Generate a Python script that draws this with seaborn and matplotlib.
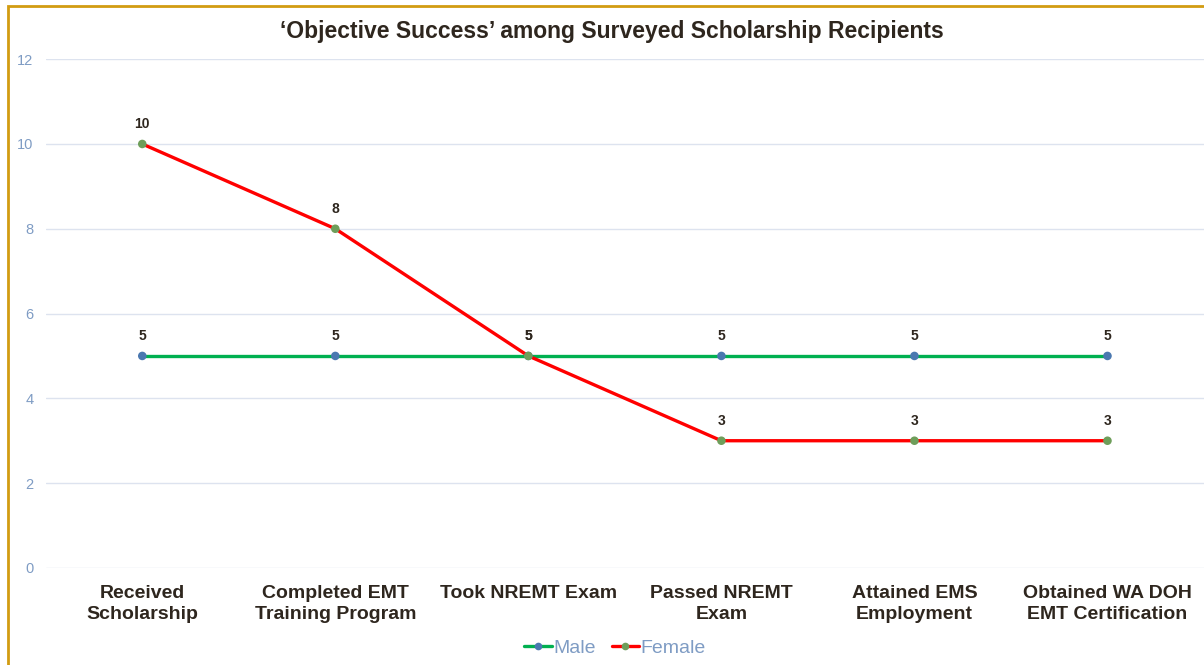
#Objective success line chart

#Import libraries
import numpy as np
import matplotlib.pyplot as plt
import pandas as pd
import seaborn as sns
from matplotlib.lines import Line2D
from matplotlib.patches import Rectangle

#Data
stages = ['Received\nScholarship', 'Completed EMT\nTraining Program',
          'Took NREMT Exam', 'Passed NREMT\nExam', 'Attained EMS\nEmployment',
          'Obtained WA DOH\nEMT Certification']
male = [5, 5, 5, 5, 5, 5]
female = [10, 8, 5, 3, 3, 3]
groups = ['Male', 'Female']

#Styles
line_colors = {'Male': '#00b050', 'Female': '#ff0000'}
marker_colors = {'Male': '#4a78b0', 'Female': '#6e9e5a'}
tick_color = '#7f9cc4'
text_color = '#2e261e'

df = pd.DataFrame({'Stage': stages * 2,
                   'Count': male + female,
                   'Group': ['Male'] * len(stages) + ['Female'] * len(stages)})
df['x'] = list(range(len(stages))) * 2

sns.set_style('white')
plt.rcParams['font.family'] = ['Liberation Sans', 'DejaVu Sans']

fig = plt.figure(figsize=(12.04, 6.65), dpi=100)
ax = fig.add_axes([0.038, 0.146, 0.962, 0.765])

#Lines and markers
sns.lineplot(data=df, x='x', y='Count', hue='Group', hue_order=groups,
             palette=line_colors, linewidth=2.4, legend=False, ax=ax, zorder=3)
sns.scatterplot(data=df, x='x', y='Count', hue='Group', hue_order=groups,
                palette=marker_colors, s=38, linewidth=0, legend=False,
                ax=ax, zorder=4)

#Value labels
for g, vals in zip(groups, [male, female]):
    for i, v in enumerate(vals):
        ax.annotate(str(v), (i, v), xytext=(0, 9), textcoords='offset points',
                    ha='center', va='bottom', fontsize=10, fontweight='bold',
                    color=text_color)

#Axes
ax.set_xlim(-0.5, len(stages) - 0.5)
ax.set_ylim(0, 12)
ax.set_yticks(np.arange(0, 13, 2))
ax.set_xticks(range(len(stages)))
ax.set_xticklabels(stages, fontsize=14, fontweight='bold', color=text_color,
                   linespacing=1.35)
ax.tick_params(axis='y', labelsize=10.5, colors=tick_color, length=0, pad=9)
ax.tick_params(axis='x', length=0, pad=12)
ax.grid(axis='y', color='#dde3ef', linewidth=1)
ax.set_axisbelow(True)
for s in ax.spines.values():
    s.set_visible(False)
ax.set_xlabel('')
ax.set_ylabel('')

#Title
fig.text(0.508, 0.953, '\u2018Objective Success\u2019 among Surveyed Scholarship Recipients',
         ha='center', va='center', fontsize=16.5, fontweight='bold', color=text_color)

#Legend
handles = [Line2D([0], [0], color=line_colors[g], linewidth=2.4, marker='o',
                  markersize=5.5, markerfacecolor=marker_colors[g],
                  markeredgewidth=0) for g in groups]
fig.legend(handles, groups, loc='center', bbox_to_anchor=(0.511, 0.025), ncol=2,
           frameon=False, fontsize=14, labelcolor=tick_color, handlelength=1.4,
           handletextpad=0.1, columnspacing=0.8)

#Gold border
fig.patches.append(Rectangle((0.007, -0.1), 1.1, 1.091, transform=fig.transFigure,
                             fill=False, edgecolor='#d29c12', linewidth=2))

plt.savefig('out.png', dpi=100)
